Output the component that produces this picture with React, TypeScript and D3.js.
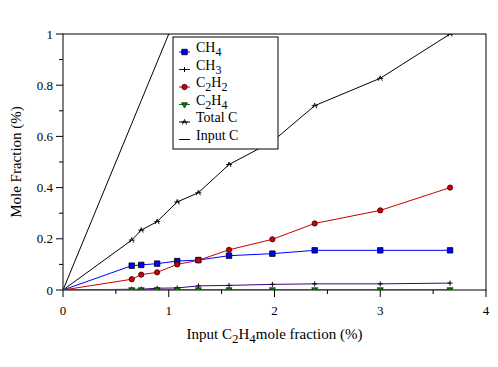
import { line, scaleLinear, symbol, symbolTriangle, symbolSquare, symbolCircle } from 'd3';

const width = 498;
const height = 367;
const margin = { top: 34, right: 12, bottom: 77, left: 63 };

// input C2H4 mole fraction (%)
const inputX = [0, 0.65, 0.74, 0.89, 1.08, 1.28, 1.57, 1.98, 2.38, 3.0, 3.66];
const ch4 = [0, 0.095, 0.098, 0.103, 0.113, 0.117, 0.134, 0.142, 0.155, 0.155, 0.155];
const ch3 = [0, 0.003, 0.003, 0.007, 0.008, 0.016, 0.018, 0.022, 0.024, 0.024, 0.027];
const c2h2 = [0, 0.042, 0.06, 0.069, 0.1, 0.116, 0.157, 0.198, 0.26, 0.311, 0.4];
const c2h4 = [0, 0.002, 0.002, 0.002, 0.002, 0.002, 0.002, 0.002, 0.002, 0.002, 0.002];
const totalC = [0, 0.195, 0.234, 0.267, 0.344, 0.38, 0.49, 0.58, 0.72, 0.827, 1.0];
const inputC = [0, 0.65, 0.74, 0.89, 1.08, 1.28, 1.57, 1.98, 2.38, 3.0, 3.66];

const xTicks = [0, 1, 2, 3, 4];
const xMinor = [0.5, 1.5, 2.5, 3.5];
const yTicks = [0, 0.2, 0.4, 0.6, 0.8, 1];
const yMinor = [0.1, 0.3, 0.5, 0.7, 0.9];

const font = 'Liberation Serif, DejaVu Serif, serif';

type Marker = 'square' | 'circle' | 'tri' | 'plus' | 'star' | 'none';

const series: { key: string; name: [string, string][]; values: number[]; color: string; marker: Marker }[] = [
	{ key: 'input', name: [['Input C', '']], values: inputC, color: '#000', marker: 'none' },
	{ key: 'total', name: [['Total C', '']], values: totalC, color: '#000', marker: 'star' },
	{ key: 'ch4', name: [['CH', '4']], values: ch4, color: '#0000ff', marker: 'square' },
	{ key: 'c2h2', name: [['C', '2'], ['H', '2']], values: c2h2, color: '#cc0000', marker: 'circle' },
	{ key: 'ch3', name: [['CH', '3']], values: ch3, color: '#400080', marker: 'plus' },
	{ key: 'c2h4', name: [['C', '2'], ['H', '4']], values: c2h4, color: '#008000', marker: 'tri' },
];
const legendOrder = ['ch4', 'ch3', 'c2h2', 'c2h4', 'total', 'input'];

const MarkerShape = ({ type, color, x, y }: { type: Marker; color: string; x: number; y: number }) => {
	const t = `translate(${x},${y})`;
	if (type === 'square')
		return <path transform={t} d={symbol(symbolSquare, 30)() || ''} fill={color} stroke="#000" strokeWidth={0.8} />;
	if (type === 'circle')
		return <path transform={t} d={symbol(symbolCircle, 22)() || ''} fill={color} stroke="#300" strokeWidth={0.8} />;
	if (type === 'tri')
		return <path transform={`${t} rotate(180)`} d={symbol(symbolTriangle, 16)() || ''} fill={color} stroke="#000" strokeWidth={0.6} />;
	if (type === 'plus')
		return (
			<g transform={t} stroke="#000" strokeWidth={1}>
				<line x1={-2.5} x2={2.5} />
				<line y1={-2.5} y2={2.5} />
			</g>
		);
	if (type === 'star')
		return (
			<g transform={t} stroke="#000" strokeWidth={0.9}>
				<line x1={-3} x2={3} />
				<line x1={-2} y1={2.5} x2={0} y2={-2.5} />
				<line x1={2} y1={2.5} x2={0} y2={-2.5} />
			</g>
		);
	return null;
};

// flatten [base, subscript] pairs into tspans with explicit baseline moves
const subTspans = (parts: [string, string][], subSize: number) => {
	const out: JSX.Element[] = [];
	let shifted = false;
	parts.forEach(([a, b], i) => {
		out.push(
			<tspan key={`a${i}`} dy={shifted ? -4 : 0}>
				{a}
			</tspan>,
		);
		shifted = false;
		if (b) {
			out.push(
				<tspan key={`b${i}`} dy={4} fontSize={subSize}>
					{b}
				</tspan>,
			);
			shifted = true;
		}
	});
	return out;
};

const App = () => {
	const innerWidth = width - margin.left - margin.right;
	const innerHeight = height - margin.top - margin.bottom;

	const xScale = scaleLinear().domain([0, 4]).range([0, innerWidth]);
	const yScale = scaleLinear().domain([0, 1]).range([innerHeight, 0]);

	const path = (vals: number[]) =>
		line<number>()
			.x((_, i) => xScale(inputX[i]))
			.y(d => yScale(d))(vals) || '';

	return (
		<svg
			width={width}
			height={height}
			fontFamily={font}
			style={{ position: 'absolute', left: 0, top: 0, background: '#fff' }}
		>
			<defs>
				<clipPath id="plot">
					<rect width={innerWidth} height={innerHeight} />
				</clipPath>
			</defs>
			<g transform={`translate(${margin.left},${margin.top})`} fontFamily={font}>
				<rect width={innerWidth} height={innerHeight} fill="none" stroke="#000" strokeWidth={1} />

				{yTicks.map(t => (
					<g key={t} transform={`translate(0,${yScale(t)})`}>
						<line x1={-7} x2={0} stroke="#000" />
						<text x={-10} dy="0.35em" textAnchor="end" fontSize={13}>
							{t}
						</text>
					</g>
				))}
				{yMinor.map(t => (
					<line key={t} x1={-4} x2={0} y1={yScale(t)} y2={yScale(t)} stroke="#000" />
				))}
				{xTicks.map(t => (
					<g key={t} transform={`translate(${xScale(t)},${innerHeight})`}>
						<line y1={0} y2={7} stroke="#000" />
						<text y={25} textAnchor="middle" fontSize={13}>
							{t}
						</text>
					</g>
				))}
				{xMinor.map(t => (
					<line key={t} x1={xScale(t)} x2={xScale(t)} y1={innerHeight} y2={innerHeight + 4} stroke="#000" />
				))}

				<g clipPath="url(#plot)">
					{series.map(s => (
						<g key={s.key}>
							<path d={path(s.values)} fill="none" stroke={s.color} strokeWidth={1} />
							{s.values.map((v, i) =>
								i === 0 ? null : (
									<MarkerShape key={i} type={s.marker} color={s.color} x={xScale(inputX[i])} y={yScale(v)} />
								),
							)}
						</g>
					))}
				</g>

				<g transform="translate(110,3)">
					<rect width={105} height={112} fill="#fff" stroke="#000" strokeWidth={1} />
					{legendOrder.map((k, i) => {
						const s = series.find(d => d.key === k)!;
						const y = 15 + i * 17.5;
						return (
							<g key={k} transform={`translate(0,${y})`}>
								<line x1={6} x2={17} stroke={s.color} />
								<MarkerShape type={s.marker} color={s.color} x={11.5} y={0} />
								<text x={23} dy="0.35em" fontSize={14}>
									{subTspans(s.name, 12)}
								</text>
							</g>
						);
					})}
				</g>

				<text x={innerWidth / 2} y={innerHeight + 49} textAnchor="middle" fontSize={15}>
					{subTspans(
						[
							['Input C', '2'],
							['H', '4'],
							['mole fraction (%)', ''],
						],
						13,
					)}
				</text>
				<text
					transform={`translate(${-42},${innerHeight / 2}) rotate(-90)`}
					textAnchor="middle"
					fontSize={15}
				>
					Mole Fraction (%)
				</text>
			</g>
		</svg>
	);
};

export default App;
